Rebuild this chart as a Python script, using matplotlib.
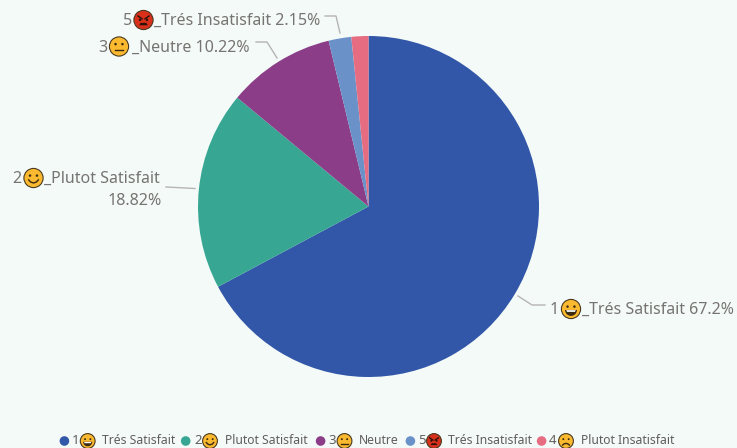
import matplotlib
matplotlib.use("Agg")
import matplotlib.pyplot as plt
from matplotlib.patches import Circle, Wedge, Polygon

W, H = 737, 448

categories = ["Trés Satisfait", "Plutot Satisfait", "Neutre", "Trés Insatisfait", "Plutot Insatisfait"]
prefixes = ["1", "2", "3", "5", "4"]
faces = ["grin", "smile", "neutral", "angry", "frown"]
values = [67.2, 18.82, 10.22, 2.15, 1.61]
colors = ["#3257A8", "#37A794", "#8B3D88", "#6B91C9", "#E66C82"]

BG = "#F4FAF8"
LABEL = "#767472"
LEGEND = "#605E5C"
FONT = "Noto Sans"

plt.rcParams["font.family"] = [FONT, "DejaVu Sans"]

fig = plt.figure(figsize=(W / 100, H / 100), dpi=100, facecolor=BG)

# pie axes, sized in pixels
cx, cy, r = 368.5, 206.5, 170.5
ax = fig.add_axes([(cx - r) / W, 1 - (cy + r) / H, 2 * r / W, 2 * r / H])
ax.pie(values, colors=colors, startangle=90, counterclock=False, radius=1)
ax.set_xlim(-1, 1)
ax.set_ylim(-1, 1)

# overlay in pixel coordinates for labels, leaders and legend
ov = fig.add_axes([0, 0, 1, 1])
ov.set_xlim(0, W)
ov.set_ylim(H, 0)
ov.axis("off")
ov.patch.set_alpha(0)


# emoji are not available as a font here, so draw them
def draw_face(x, y, rad, kind):
    fill = "#D9301C" if kind == "angry" else "#FBB92F"
    ink = "#3A2A10"
    ov.add_patch(Circle((x, y), rad, fc=fill, ec="#4A3A20", lw=0.8))
    ex, ey = 0.36 * rad, -0.25 * rad
    if kind == "angry":
        for s in (-1, 1):
            ov.plot([x + s * 0.58 * rad, x + s * 0.15 * rad], [y - 0.42 * rad, y - 0.12 * rad], color="#2A1208", lw=1.0)
            ov.add_patch(Circle((x + s * ex, y - 0.02 * rad), 0.13 * rad, fc="#2A1208", ec="none"))
        ov.add_patch(Polygon([(x - 0.45 * rad, y + 0.55 * rad), (x + 0.45 * rad, y + 0.55 * rad),
                              (x + 0.3 * rad, y + 0.3 * rad), (x - 0.3 * rad, y + 0.3 * rad)],
                             fc="#2A1208", ec="none"))
        return
    for s in (-1, 1):
        ov.add_patch(Circle((x + s * ex, y + ey), 0.13 * rad, fc=ink, ec="none"))
    if kind == "grin":
        ov.add_patch(Wedge((x, y + 0.1 * rad), 0.62 * rad, 0, 180, fc=ink, ec="none"))
        ov.add_patch(Polygon([(x - 0.5 * rad, y + 0.12 * rad), (x + 0.5 * rad, y + 0.12 * rad),
                              (x + 0.42 * rad, y + 0.3 * rad), (x - 0.42 * rad, y + 0.3 * rad)],
                             fc="white", ec="none"))
    elif kind == "smile":
        ts = [(-0.5, 0.2), (-0.3, 0.42), (0, 0.52), (0.3, 0.42), (0.5, 0.2)]
        ov.plot([x + a * rad for a, b in ts], [y + b * rad for a, b in ts], color=ink, lw=1.0)
    elif kind == "neutral":
        ov.plot([x - 0.45 * rad, x + 0.45 * rad], [y + 0.38 * rad] * 2, color=ink, lw=1.0)
    else:
        ts = [(-0.45, 0.55), (-0.25, 0.38), (0, 0.32), (0.25, 0.38), (0.45, 0.55)]
        ov.plot([x + a * rad for a, b in ts], [y + b * rad for a, b in ts], color=ink, lw=1.0)


# leader lines
leaders = [
    [(518, 296), (532, 305), (545, 305)],
    [(166, 187), (195, 188.5)],
    [(256, 42), (267, 42), (277, 58)],
    [(325, 16), (336, 16), (340, 33)],
]
for pts in leaders:
    ov.plot([p[0] for p in pts], [p[1] for p in pts], color="#B5B5B3", lw=1.0)

# data labels: prefix x, face x, text x, y
label_text = ["_Trés Satisfait 67.2%", "_Plutot Satisfait", "_Neutre 10.22%", "_Trés Insatisfait 2.15%"]
label_pos = [(550, 571, 582, 309), (12, 33.5, 44, 178), (98, 119, 132, 46.5), (123, 143.5, 154, 20)]
for i, (px, fx, tx, y) in enumerate(label_pos):
    ov.text(px, y + 1, prefixes[i], fontsize=11.6, color=LABEL, va="center", ha="left")
    draw_face(fx, y, 9.6, faces[i])
    ov.text(tx, y + 1, label_text[i], fontsize=11.5, color=LABEL, va="center", ha="left")
ov.text(162, 201, "18.82%", fontsize=11.6, color=LABEL, va="center", ha="right")

# legend
legend_y = 441
marker_x = [64.4, 185.7, 320.6, 410.4, 541.6]
prefix_x = [72, 194, 328, 418, 549]
face_x = [87.7, 210, 344.5, 434, 566]
text_x = [102.5, 224.7, 359, 448.5, 580.6]
for i in range(5):
    ov.add_patch(Circle((marker_x[i], legend_y), 4.8, fc=colors[i], ec="none"))
    ov.text(prefix_x[i], legend_y, prefixes[i], fontsize=9.5, color=LEGEND, va="center", ha="left")
    draw_face(face_x[i], legend_y, 7.4, faces[i])
    ov.text(text_x[i], legend_y, categories[i], fontsize=8.75, color=LEGEND, va="center", ha="left")

fig.savefig("out.png", dpi=100, facecolor=BG)
